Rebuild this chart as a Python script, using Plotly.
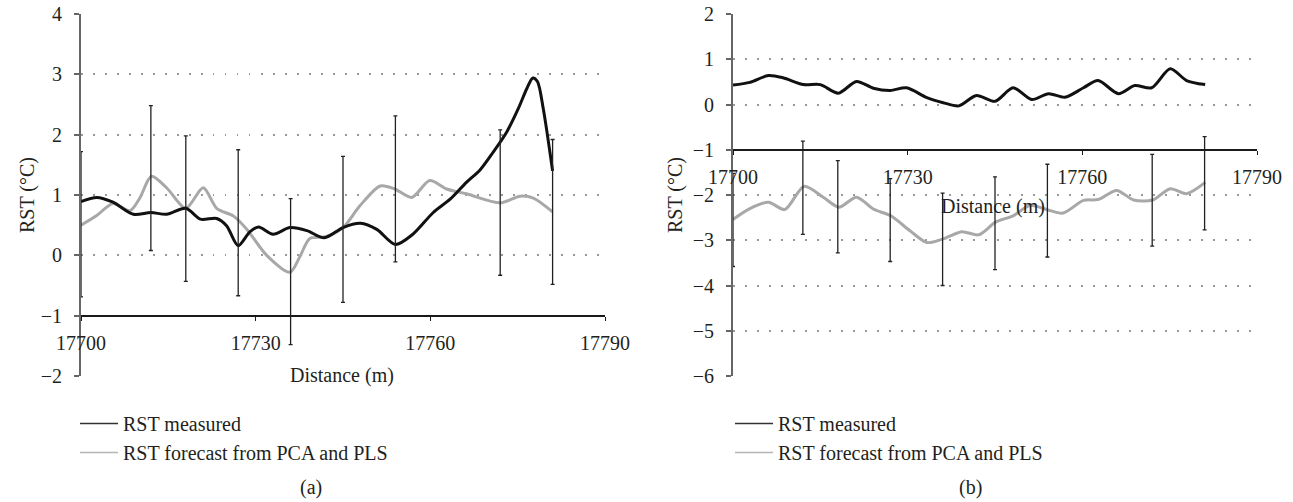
import plotly.graph_objects as go

# ---------------- Panel (a) data ----------------
a_meas_x = [17700, 17702.7, 17705.5, 17709, 17712, 17714.7, 17718, 17720.5, 17723.3, 17725,
            17727, 17729, 17730.5, 17733, 17735.9, 17738.8, 17741.8, 17745, 17748, 17750.8,
            17754, 17757, 17760.5, 17763.4, 17766.2, 17768.5, 17770.8, 17773.1, 17775.1,
            17776.6, 17777.6, 17778.4, 17779.4, 17781]
a_meas_y = [0.89, 0.96, 0.88, 0.68, 0.71, 0.68, 0.78, 0.60, 0.61, 0.49,
            0.16, 0.39, 0.47, 0.35, 0.46, 0.41, 0.29, 0.46, 0.53, 0.43,
            0.18, 0.35, 0.71, 0.93, 1.21, 1.41, 1.71, 2.04, 2.43,
            2.77, 2.94, 2.88, 2.43, 1.40]
a_fc_x = [17700, 17702.7, 17705.5, 17708.4, 17710.1, 17712.1, 17714.7, 17718, 17721, 17723.3,
          17726.2, 17728.5, 17731.9, 17735.9, 17737.6, 17739.3, 17742, 17745, 17747.9, 17751.4,
          17753.9, 17756.8, 17759.9, 17762.8, 17766.2, 17772, 17775.4, 17777.7, 17781]
a_fc_y = [0.50, 0.66, 0.86, 0.74, 0.95, 1.31, 1.12, 0.78, 1.12, 0.78,
          0.65, 0.43, 0.00, -0.28, -0.02, 0.28, 0.31, 0.46, 0.82, 1.15,
          1.10, 0.96, 1.24, 1.10, 1.02, 0.87, 0.98, 0.95, 0.72]
a_err_x = [17700, 17712, 17718, 17727, 17736, 17745, 17754, 17772, 17781]
a_err_top = [1.72, 2.48, 1.98, 1.75, 0.94, 1.64, 2.31, 2.08, 1.92]
a_err_bot = [-0.69, 0.08, -0.43, -0.67, -1.48, -0.78, -0.11, -0.33, -0.48]

# ---------------- Panel (b) data ----------------
b_meas_x = [17700, 17702.9, 17706.1, 17708.6, 17712.1, 17715, 17718.1, 17721.2, 17724.1, 17727,
            17729.8, 17733.3, 17736.1, 17738.8, 17741.8, 17745, 17748.1, 17751.3, 17754.2, 17757,
            17760.2, 17762.7, 17766.2, 17769, 17771.9, 17775.1, 17777.9, 17781.1]
b_meas_y = [0.43, 0.49, 0.64, 0.59, 0.44, 0.44, 0.25, 0.51, 0.36, 0.31,
            0.37, 0.15, 0.04, -0.03, 0.20, 0.07, 0.37, 0.11, 0.24, 0.16,
            0.37, 0.53, 0.24, 0.42, 0.37, 0.79, 0.53, 0.44]
b_fc_x = [17700, 17702.9, 17706.1, 17708.9, 17712.2, 17715.5, 17718.2, 17721.2, 17724.1, 17727.1,
          17730.4, 17733.3, 17736.1, 17739.3, 17742.2, 17745.1, 17748.1, 17751, 17754.1, 17756.7,
          17760.2, 17762.7, 17765.9, 17768.8, 17772.1, 17775.1, 17777.9, 17781.1]
b_fc_y = [-2.54, -2.30, -2.16, -2.32, -1.81, -2.05, -2.27, -2.05, -2.31, -2.46,
          -2.79, -3.05, -2.97, -2.81, -2.88, -2.60, -2.46, -2.23, -2.33, -2.40,
          -2.12, -2.10, -1.90, -2.11, -2.11, -1.86, -1.97, -1.72]
b_err_x = [17700, 17712, 17718, 17727, 17736, 17745, 17754, 17772, 17781]
b_err_top = [-1.52, -0.81, -1.24, -1.64, -1.96, -1.60, -1.32, -1.10, -0.71]
b_err_bot = [-3.58, -2.87, -3.28, -3.47, -4.00, -3.65, -3.37, -3.13, -2.77]

x_ticks = [17700, 17730, 17760, 17790]
names = ["RST measured", "RST forecast from PCA and PLS"]

W, H = 1293, 502
FONT = "Liberation Serif"
FS = 20
TXT = "#231f20"
BLACK = "#111111"
GRAY = "#a8a8a8"

def px_x(p):
    return p / W

def px_y(p):
    return 1 - p / H

fig = go.Figure()

def add_panel(xa, ya, legend, mx, my, fx, fy, ex, etop, ebot):
    fig.add_trace(go.Scatter(x=fx, y=fy, mode="lines", line=dict(color=GRAY, width=3, shape="spline", smoothing=0.8),
                             xaxis=xa, yaxis=ya, showlegend=False, hoverinfo="skip"))
    fig.add_trace(go.Scatter(x=mx, y=my, mode="lines", line=dict(color=BLACK, width=3, shape="spline", smoothing=0.8),
                             xaxis=xa, yaxis=ya, showlegend=False, hoverinfo="skip"))
    centers = [(t + b) / 2 for t, b in zip(etop, ebot)]
    plus = [t - c for t, c in zip(etop, centers)]
    minus = [c - b for c, b in zip(centers, ebot)]
    fig.add_trace(go.Scatter(x=ex, y=centers, mode="markers", marker=dict(size=1, color="rgba(0,0,0,0)"),
                             error_y=dict(type="data", array=plus, arrayminus=minus, visible=True,
                                          color="#222222", thickness=1.3, width=2),
                             xaxis=xa, yaxis=ya, showlegend=False, hoverinfo="skip"))
    fig.add_trace(go.Scatter(x=[None], y=[None], mode="lines", line=dict(color="#333333", width=1.6),
                             name=names[0], xaxis=xa, yaxis=ya, legend=legend))
    fig.add_trace(go.Scatter(x=[None], y=[None], mode="lines", line=dict(color="#b5b5b5", width=1.6),
                             name=names[1], xaxis=xa, yaxis=ya, legend=legend))

add_panel("x", "y", "legend", a_meas_x, a_meas_y, a_fc_x, a_fc_y, a_err_x, a_err_top, a_err_bot)
add_panel("x2", "y2", "legend2", b_meas_x, b_meas_y, b_fc_x, b_fc_y, b_err_x, b_err_top, b_err_bot)

ydom = [px_y(376), px_y(14)]
xdom1 = [px_x(81), px_x(605)]
xdom2 = [px_x(733), px_x(1257)]

tickfont = dict(family=FONT, size=FS, color=TXT)

def xaxis_cfg(dom, pos):
    return dict(domain=dom, range=[17700, 17790], tickvals=x_ticks, ticktext=[str(v) for v in x_ticks],
                anchor="free", position=pos, showline=True, linecolor="#1a1a1a", linewidth=1.5,
                ticks="outside", ticklen=4, tickcolor="#1a1a1a", tickwidth=1.2,
                showgrid=False, zeroline=False, tickfont=tickfont, ticklabelstandoff=5, automargin=False)

def yaxis_cfg(rng, anchor):
    return dict(domain=ydom, range=rng, dtick=1, anchor=anchor, showline=True, linecolor="#666666",
                linewidth=2, ticks="outside", ticklen=5, tickcolor="#666666", tickwidth=1.5,
                showgrid=True, gridcolor="#999999", gridwidth=1.5, griddash="1.5px,10.5px",
                zeroline=False, tickfont=tickfont, ticklabelstandoff=8, automargin=False)

legend_common = dict(font=dict(family=FONT, size=FS, color=TXT), bgcolor="rgba(0,0,0,0)",
                     borderwidth=0, xanchor="left", yanchor="top", tracegroupgap=0,
                     itemwidth=38, orientation="v")

fig.update_layout(
    width=W, height=H,
    margin=dict(l=0, r=0, t=0, b=0, pad=0, autoexpand=False),
    paper_bgcolor="white", plot_bgcolor="white",
    xaxis=xaxis_cfg(xdom1, px_y(316)),
    xaxis2=xaxis_cfg(xdom2, px_y(150)),
    yaxis=yaxis_cfg([-2, 4], "x"),
    yaxis2=yaxis_cfg([-6, 2], "x2"),
    legend=dict(x=px_x(75), y=px_y(404), **legend_common),
    legend2=dict(x=px_x(730), y=px_y(404), **legend_common),
    showlegend=True,
)

ann_font = dict(family=FONT, size=FS, color=TXT)
def ann(text, x, y, angle=0):
    return dict(text=text, x=px_x(x), y=px_y(y), xref="paper", yref="paper", showarrow=False,
                font=ann_font, textangle=angle, xanchor="center", yanchor="middle")

annotations = [
    ann("Distance (m)", 342, 375),
    ann("Distance (m)", 993, 206),
    ann("RST (°C)", 27, 195, -90),
    ann("RST (°C)", 675, 195, -90),
    ann("(a)", 311, 487),
    ann("(b)", 970, 487),
]
fig.update_layout(annotations=annotations)

fig.write_html("out.html")
